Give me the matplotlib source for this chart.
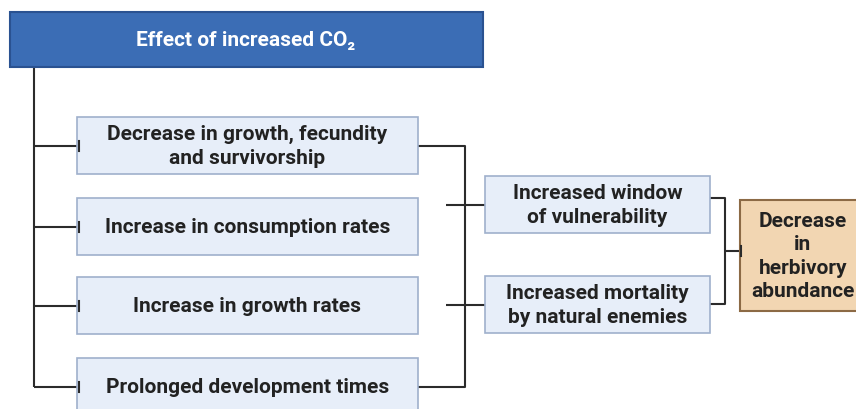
import matplotlib
matplotlib.use('Agg')
import matplotlib.pyplot as plt
from matplotlib.patches import Rectangle

plt.rcParams['font.family'] = ['Roboto', 'DejaVu Sans']

# diagram content
header_label = 'Effect of increased CO\u2082'
effect_labels = ['Decrease in growth, fecundity\nand survivorship',
                 'Increase in consumption rates',
                 'Increase in growth rates',
                 'Prolonged development times']
middle_labels = ['Increased window\nof vulnerability',
                 'Increased mortality\nby natural enemies']
outcome_label = 'Decrease\nin\nherbivory\nabundance'

# layout in pixels (y downwards)
effect_tops = [118, 199, 278, 359]
effect_h = 57
middle_tops = [177, 277]
middle_h = 57

W, H = 856, 410
fig = plt.figure(figsize=(W / 100, H / 100), dpi=100)
ax = fig.add_axes([0, 0, 1, 1])
ax.set_xlim(0, W)
ax.set_ylim(H, 0)
ax.axis('off')

line_kw = dict(color='#2b2b2b', linewidth=1.5, solid_capstyle='butt', zorder=1)
box_fc = '#e7eef9'
box_ec = '#9fb0cc'
txt_color = '#222222'
txt_kw = dict(ha='center', va='center', color=txt_color, fontsize=15,
              fontweight='bold', linespacing=1.3, zorder=3)


def box(x0, y0, w, h, fc, ec, lw=1.2):
    ax.add_patch(Rectangle((x0, y0), w, h, facecolor=fc, edgecolor=ec,
                           linewidth=lw, zorder=2))


def tick(x, y):
    ax.plot([x, x], [y - 5, y + 5], color='#2b2b2b', linewidth=1.5, zorder=3)


# header
box(10, 13, 473, 55, '#3b6db5', '#2a5291', 1.5)
ax.text(246, 41, header_label, ha='center', va='center', color='white',
        fontsize=15, fontweight='bold', zorder=3)

# trunk
trunk_x = 34
centers = [t + effect_h / 2 for t in effect_tops]
ax.plot([trunk_x, trunk_x], [68, centers[-1] + 0.7], **line_kw)

for top, c, label in zip(effect_tops, centers, effect_labels):
    box(77, top, 341, effect_h, box_fc, box_ec)
    ax.plot([trunk_x, 79], [c, c], **line_kw)
    tick(79, c)
    ax.text(247.5, c, label, **txt_kw)

# right bracket of effects
br_x = 465
ax.plot([418, br_x, br_x, 418], [centers[0], centers[0], centers[-1], centers[-1]],
        **line_kw)

# middle boxes
mid_centers = [t + middle_h / 2 for t in middle_tops]
for top, c, label in zip(middle_tops, mid_centers, middle_labels):
    box(485, top, 225, middle_h, box_fc, box_ec)
    ax.plot([446, 485], [c, c], **line_kw)
    ax.text(597.5, c, label, **txt_kw)

# bracket into outcome
b2_x = 725
ax.plot([710, b2_x, b2_x, 710], [199, 199, 305, 305], **line_kw)
ax.plot([b2_x, 741], [252, 252], **line_kw)
tick(741, 252)

# outcome box
box(740, 201, 125, 111, '#f2d6b2', '#8c6a45', 1.5)
ax.text(803, 256.5, outcome_label, **txt_kw)

fig.savefig('out.png', dpi=100, facecolor='white')
plt.close(fig)
